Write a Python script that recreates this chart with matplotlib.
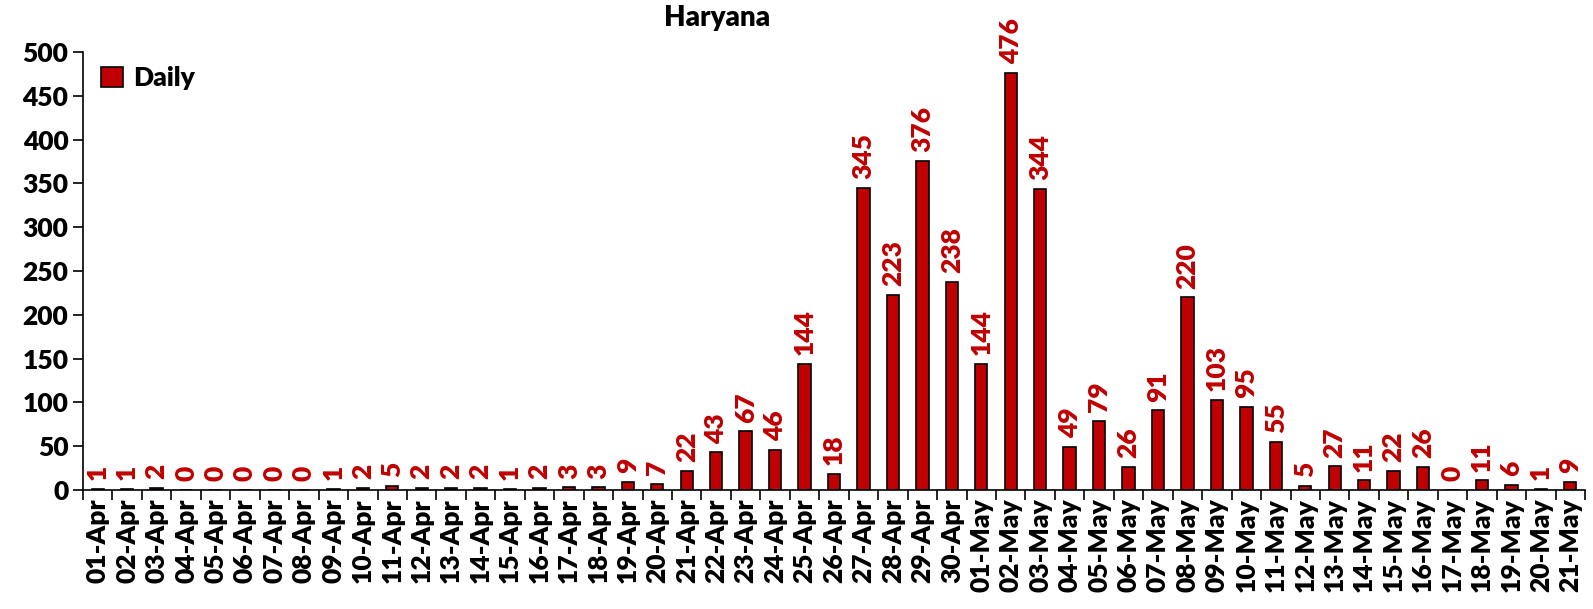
import matplotlib
matplotlib.use("Agg")
import matplotlib.pyplot as plt
import numpy as np

# --- data ---
dates = [f"{d:02d}-Apr" for d in range(1, 31)] + [f"{d:02d}-May" for d in range(1, 22)]
daily = [1, 1, 2, 0, 0, 0, 0, 0, 1, 2, 5, 2, 2, 2, 1, 2, 3, 3, 9, 7, 22, 43, 67, 46,
         144, 18, 345, 223, 376, 238,
         144, 476, 344, 49, 79, 26, 91, 220, 103, 95, 55, 5, 27, 11, 22, 26, 0, 11, 6, 1, 9]

RED = "#C00000"
WT = "heavy"
FS = 19
plt.rcParams["font.family"] = ["Lato", "DejaVu Sans"]
plt.rcParams["font.weight"] = WT

fig = plt.figure(figsize=(15.93, 6.09), dpi=100)
ax = fig.add_axes([0.0521, 0.1954, 0.9429, 0.7192])

x = np.arange(len(dates))
bars = ax.bar(x, daily, width=0.42, color=RED, edgecolor="black", linewidth=1.2, label="Daily")

# data labels
for xi, v in zip(x, daily):
    ax.text(xi, v + 10, str(v), rotation=90, ha="center", va="bottom",
            color=RED, fontsize=FS, fontweight=WT)

ax.set_xlim(-0.5, len(dates) - 0.5)
ax.set_ylim(0, 500)
ax.set_yticks(range(0, 501, 50))
ax.tick_params(axis="y", labelsize=FS, direction="out", length=7, width=1.2)

# ticks between categories, labels centered
ax.set_xticks(np.arange(-0.5, len(dates), 1.0))
ax.set_xticklabels([])
ax.set_xticks(x, minor=True)
ax.set_xticklabels(dates, minor=True, rotation=90, fontsize=FS, fontweight=WT)
ax.tick_params(axis="x", which="major", direction="out", length=7, width=1.2)
ax.tick_params(axis="x", which="minor", length=0, pad=6)

for s in ["top", "right"]:
    ax.spines[s].set_visible(False)
for s in ["left", "bottom"]:
    ax.spines[s].set_linewidth(1.2)

fig.text(0.45, 0.97, "Haryana", fontsize=20, fontweight=WT, ha="center", va="center")

ax.legend(loc="upper left", frameon=False, prop={"size": FS, "weight": WT},
          handlelength=0.8, handleheight=0.8, handletextpad=0.4, borderaxespad=0.3,
          bbox_to_anchor=(0.0, 1.01))

fig.savefig("out.png", dpi=100)
